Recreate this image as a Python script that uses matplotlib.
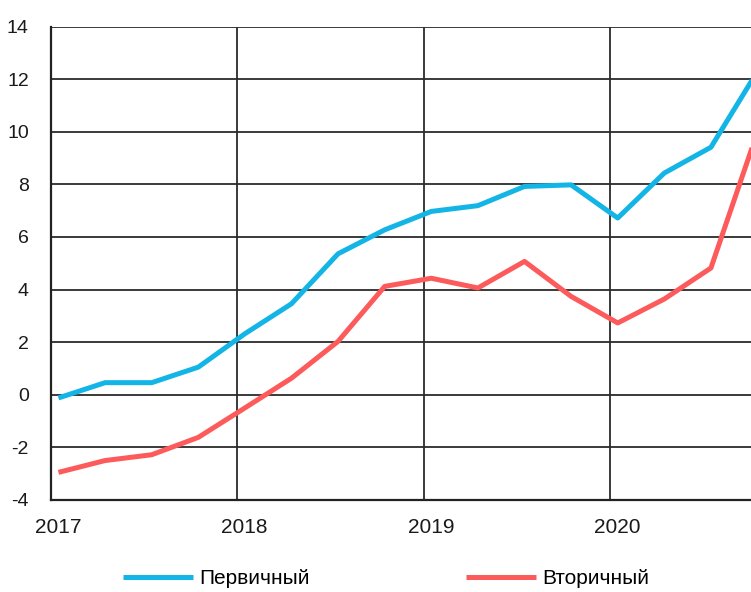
import matplotlib
matplotlib.use("Agg")
import matplotlib.pyplot as plt
from matplotlib.transforms import ScaledTranslation

plt.rcParams['font.family'] = ['Liberation Sans', 'DejaVu Sans']
plt.rcParams['axes.unicode_minus'] = False

# quarterly observations (fractional years)
dates = [2017.04, 2017.29, 2017.54, 2017.79,
         2018.04, 2018.29, 2018.54, 2018.79,
         2019.04, 2019.29, 2019.54, 2019.79,
         2020.04, 2020.29, 2020.54, 2020.79]

primary = [-0.12, 0.46, 0.46, 1.05,
           2.32, 3.46, 5.36, 6.27,
           6.97, 7.19, 7.92, 7.98,
           6.72, 8.43, 9.41, 12.3]

secondary = [-2.95, -2.5, -2.28, -1.62,
             -0.5, 0.63, 2.03, 4.12,
             4.43, 4.06, 5.07, 3.74,
             2.73, 3.64, 4.82, 10.0]

years = [2017, 2018, 2019, 2020]
yticks = [-4, -2, 0, 2, 4, 6, 8, 10, 12, 14]

blue = '#12b5e5'
red = '#fd5b5b'

fig = plt.figure(figsize=(7.51, 5.92), dpi=100)
ax = fig.add_axes([51 / 751, 1 - 500 / 592, 700 / 751, 473.5 / 592])

ax.plot(dates, primary, color=blue, lw=3.6, label='Первичный', solid_capstyle='butt')
ax.plot(dates, secondary, color=red, lw=3.6, label='Вторичный', solid_capstyle='butt')

ax.set_xlim(2017, 2020.755)
ax.set_ylim(-4, 14)
ax.set_xticks(years)
ax.set_yticks(yticks)
ax.grid(True, color='#2b2b2b', lw=1.3)
ax.set_axisbelow(True)

for s in ['top', 'right']:
    ax.spines[s].set_visible(False)
for s in ['left', 'bottom']:
    ax.spines[s].set_color('#222222')
    ax.spines[s].set_linewidth(1.6)

ax.tick_params(length=0, colors='#1a1a1a')
ax.tick_params(axis='y', pad=16, labelsize=14)
ax.tick_params(axis='x', pad=13, labelsize=15)
for lbl in ax.get_xticklabels():
    lbl.set_transform(lbl.get_transform() + ScaledTranslation(7 / 100, 0, fig.dpi_scale_trans))

fig.legend(loc='center', bbox_to_anchor=(0.514, 0.022), ncol=2, frameon=False,
           fontsize=15, handlelength=3.35, handletextpad=0.3, columnspacing=7.5)

fig.savefig('out.png', dpi=100)
